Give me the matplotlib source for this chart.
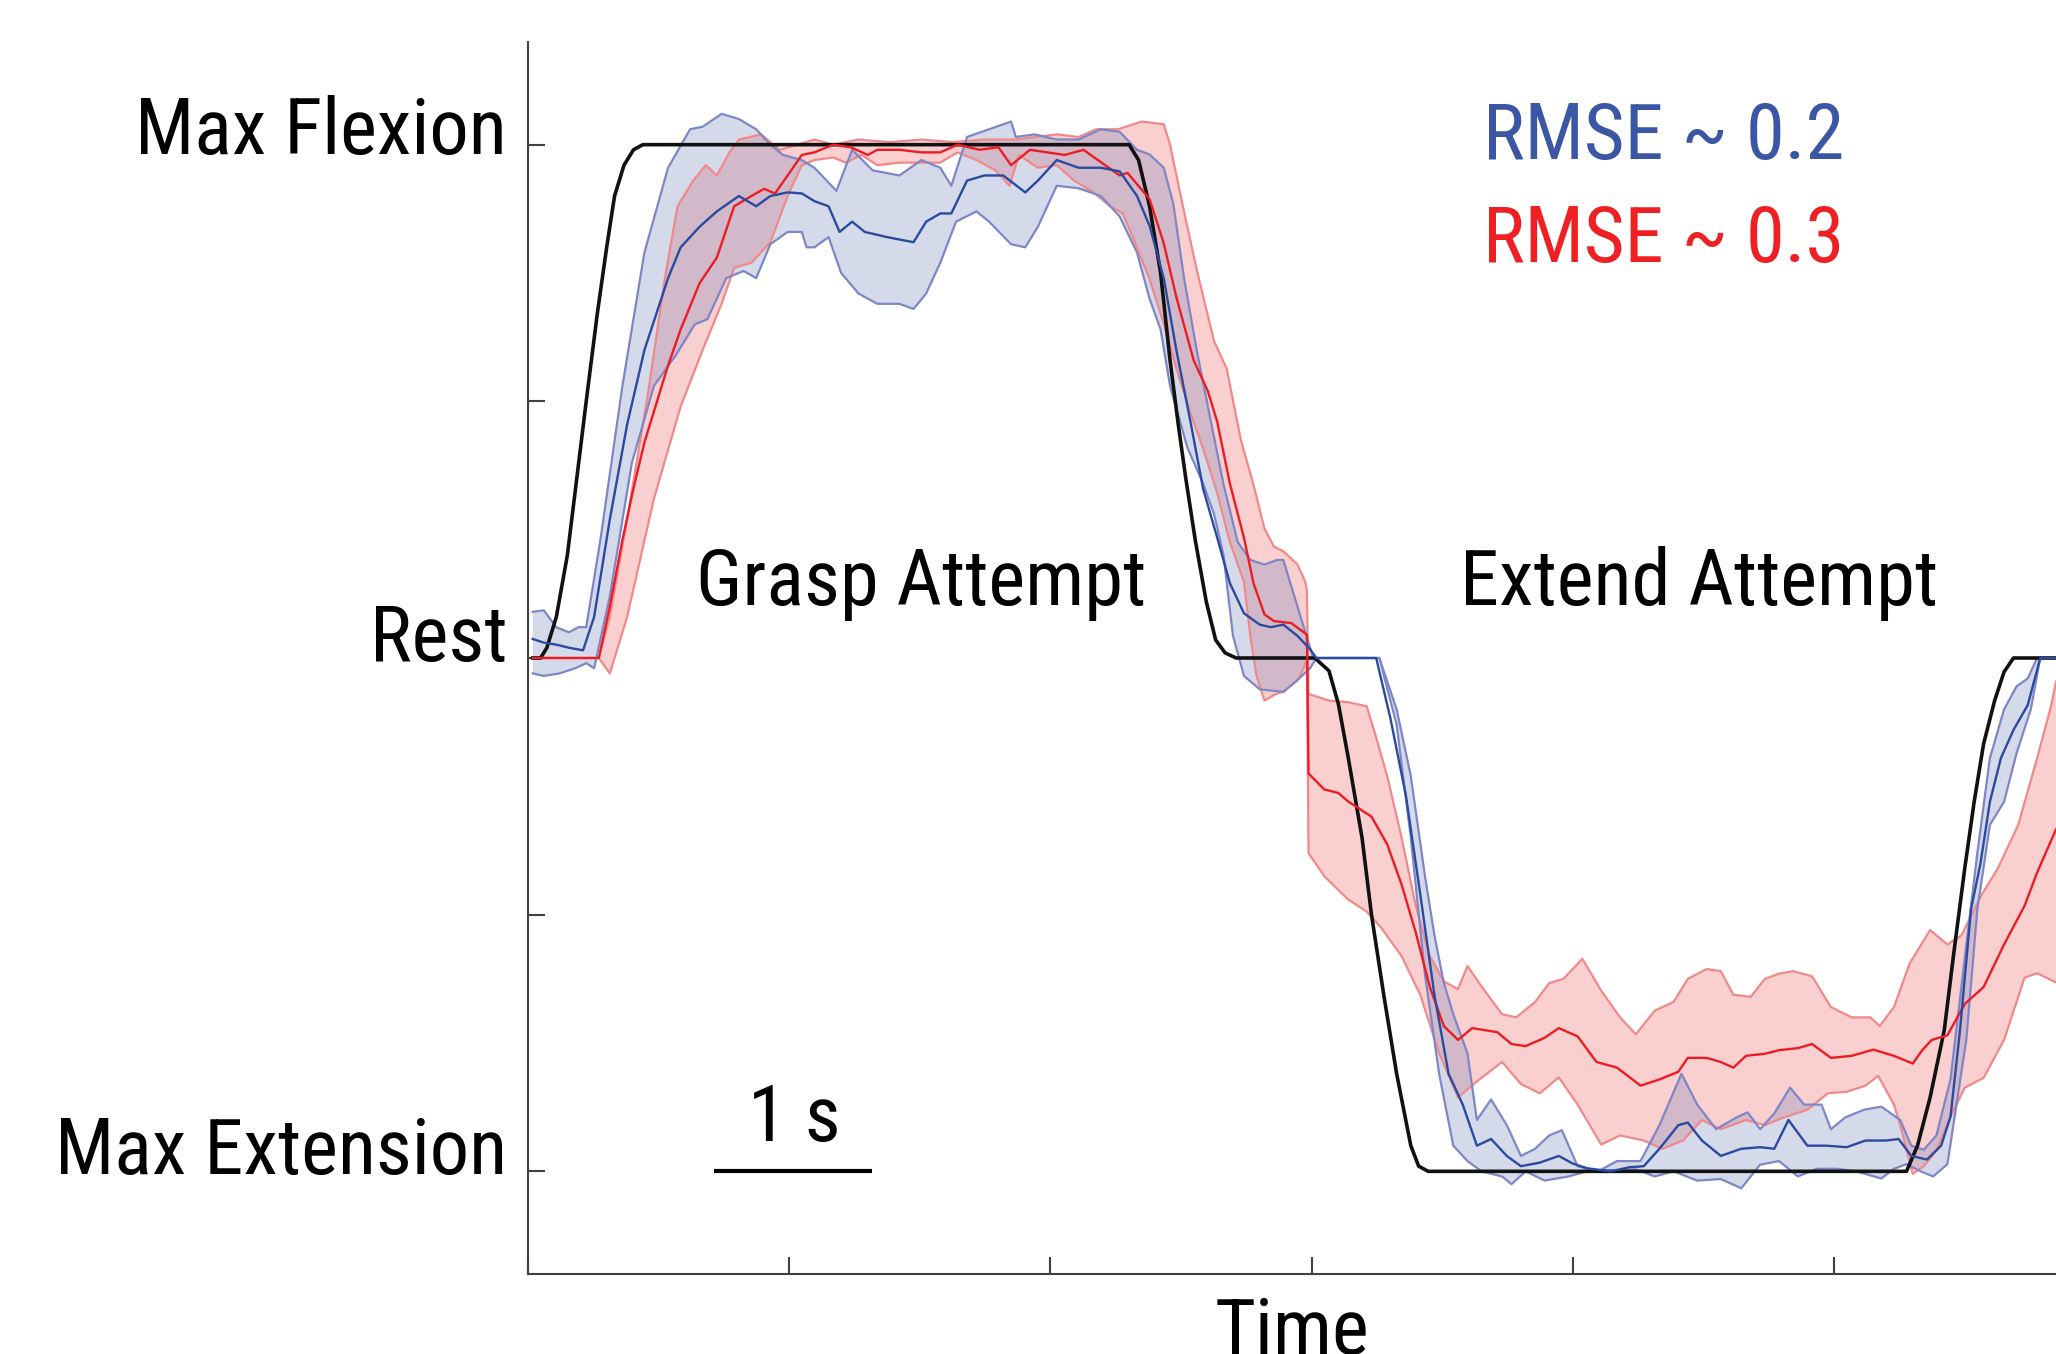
import numpy as np
import matplotlib
matplotlib.use("Agg")
import matplotlib.pyplot as plt
from matplotlib import font_manager
from matplotlib.font_manager import FontProperties
from matplotlib.transforms import blended_transform_factory

# (time [s], position) pairs
target = [(0.03, 0), (0.08, 0.0), (0.12, 0.02), (0.18, 0.08), (0.25, 0.2), (0.31, 0.35), (0.37, 0.5),
          (0.44, 0.67), (0.5, 0.8), (0.55, 0.9), (0.61, 0.96), (0.67, 0.99), (0.73, 1.0), (3.82, 1.0),
          (3.88, 0.97), (3.95, 0.88), (4.02, 0.75), (4.08, 0.58), (4.13, 0.46), (4.18, 0.35), (4.24, 0.23),
          (4.31, 0.11), (4.37, 0.035), (4.43, 0.01), (4.5, 0), (5.0, 0), (5.09, -0.025), (5.15, -0.09),
          (5.21, -0.19), (5.3, -0.35), (5.36, -0.5), (5.44, -0.66), (5.52, -0.81), (5.61, -0.95),
          (5.66, -0.99), (5.72, -1.0), (8.76, -1.0), (8.83, -0.95), (8.91, -0.856), (9.0, -0.725),
          (9.06, -0.576), (9.13, -0.41), (9.19, -0.28), (9.25, -0.167), (9.32, -0.083), (9.38, -0.027),
          (9.44, 0), (9.71, 0)]

red_mean = [(0.03, 0), (0.45, 0), (0.52, 0.1), (0.6, 0.23), (0.67, 0.33), (0.74, 0.42), (0.82, 0.5),
            (0.89, 0.57), (0.97, 0.64), (1.09, 0.73), (1.2, 0.78), (1.31, 0.88), (1.42, 0.9), (1.5, 0.914),
            (1.57, 0.905), (1.65, 0.94), (1.74, 0.98), (1.82, 0.985), (1.94, 1.0), (2.05, 0.995), (2.16, 0.98),
            (2.22, 0.99), (2.36, 0.99), (2.5, 0.985), (2.62, 0.985), (2.73, 1.0), (2.87, 0.99), (2.99, 0.995),
            (3.07, 0.96), (3.19, 0.99), (3.3, 0.985), (3.41, 0.98), (3.53, 0.99), (3.64, 0.966), (3.76, 0.94),
            (3.81, 0.945), (3.95, 0.894), (4.04, 0.808), (4.12, 0.703), (4.23, 0.58), (4.32, 0.52),
            (4.38, 0.46), (4.46, 0.34), (4.55, 0.234), (4.61, 0.146), (4.68, 0.085), (4.74, 0.072),
            (4.85, 0.068), (4.93, 0.05), (4.95, 0.045), (4.96, -0.225), (5.06, -0.256), (5.15, -0.263),
            (5.21, -0.279), (5.36, -0.309), (5.46, -0.363), (5.55, -0.44), (5.64, -0.533), (5.73, -0.64),
            (5.82, -0.717), (5.91, -0.744), (6.0, -0.721), (6.16, -0.729), (6.25, -0.752), (6.34, -0.756),
            (6.46, -0.74), (6.55, -0.721), (6.67, -0.737), (6.79, -0.787), (6.92, -0.798), (7.07, -0.833),
            (7.19, -0.821), (7.31, -0.806), (7.37, -0.779), (7.49, -0.779), (7.58, -0.787), (7.66, -0.798),
            (7.74, -0.775), (7.86, -0.771), (7.95, -0.764), (8.07, -0.76), (8.16, -0.752), (8.28, -0.779),
            (8.41, -0.775), (8.55, -0.763), (8.68, -0.775), (8.8, -0.79), (8.86, -0.764), (8.92, -0.744),
            (9.02, -0.735), (9.13, -0.674), (9.25, -0.641), (9.38, -0.558), (9.51, -0.483), (9.59, -0.418),
            (9.71, -0.334)]

red_upper = [(0.03, 0), (0.45, 0), (0.52, 0.08), (0.63, 0.27), (0.77, 0.53), (0.87, 0.74), (0.95, 0.88),
             (1.05, 0.93), (1.13, 0.96), (1.2, 0.94), (1.28, 0.985), (1.34, 1.01), (1.48, 1.02), (1.6, 0.99),
             (1.71, 1.0), (1.82, 1.01), (1.94, 1.0), (2.1, 1.01), (2.3, 1.005), (2.5, 1.01), (2.7, 1.005),
             (2.9, 1.01), (3.1, 1.01), (3.22, 1.015), (3.36, 1.02), (3.5, 1.015), (3.61, 1.03), (3.75, 1.03),
             (3.9, 1.045), (4.04, 1.04), (4.08, 1.0), (4.17, 0.868), (4.25, 0.756), (4.36, 0.617),
             (4.44, 0.564), (4.53, 0.425), (4.61, 0.338), (4.68, 0.252), (4.74, 0.217), (4.8, 0.208),
             (4.89, 0.182), (4.94, 0.148), (4.95, 0.13), (4.96, -0.07), (5.09, -0.083), (5.21, -0.086),
             (5.33, -0.094), (5.39, -0.155), (5.46, -0.23), (5.55, -0.348), (5.64, -0.48), (5.73, -0.58),
             (5.82, -0.63), (5.91, -0.645), (5.97, -0.6), (6.06, -0.64), (6.19, -0.694), (6.28, -0.7),
             (6.4, -0.67), (6.49, -0.633), (6.58, -0.625), (6.7, -0.586), (6.82, -0.648), (6.94, -0.7),
             (7.04, -0.733), (7.16, -0.687), (7.28, -0.67), (7.37, -0.625), (7.49, -0.606), (7.58, -0.61),
             (7.66, -0.656), (7.77, -0.66), (7.86, -0.625), (7.95, -0.615), (8.04, -0.61), (8.16, -0.62),
             (8.28, -0.68), (8.41, -0.7), (8.53, -0.7), (8.59, -0.717), (8.68, -0.68), (8.78, -0.595),
             (8.91, -0.53), (9.02, -0.558), (9.11, -0.54), (9.23, -0.465), (9.34, -0.41), (9.47, -0.325),
             (9.59, -0.195), (9.68, -0.092), (9.71, -0.046)]

red_lower = [(0.03, 0), (0.45, 0), (0.52, -0.03), (0.63, 0.08), (0.8, 0.31), (0.97, 0.49), (1.11, 0.6),
             (1.23, 0.69), (1.31, 0.76), (1.42, 0.77), (1.54, 0.81), (1.65, 0.9), (1.74, 0.96), (1.82, 0.97),
             (1.94, 0.975), (2.02, 0.965), (2.12, 0.98), (2.22, 0.96), (2.36, 0.965), (2.5, 0.965),
             (2.62, 0.965), (2.73, 0.985), (2.85, 0.97), (2.97, 0.95), (3.06, 0.92), (3.12, 0.98),
             (3.24, 0.955), (3.36, 0.96), (3.47, 0.93), (3.58, 0.91), (3.7, 0.88), (3.78, 0.866), (3.87, 0.8),
             (3.95, 0.738), (4.04, 0.651), (4.12, 0.564), (4.21, 0.477), (4.29, 0.408), (4.38, 0.321),
             (4.46, 0.226), (4.55, 0.148), (4.59, 0.043), (4.63, -0.035), (4.68, -0.083), (4.76, -0.069),
             (4.8, -0.066), (4.89, -0.043), (4.93, -0.02), (4.95, 0.0), (4.96, -0.38), (5.06, -0.425),
             (5.21, -0.47), (5.33, -0.494), (5.42, -0.525), (5.55, -0.58), (5.67, -0.656), (5.79, -0.77),
             (5.91, -0.856), (6.03, -0.825), (6.19, -0.787), (6.31, -0.83), (6.43, -0.848), (6.55, -0.817),
             (6.67, -0.87), (6.82, -0.948), (6.94, -0.93), (7.09, -0.94), (7.21, -0.956), (7.34, -0.94),
             (7.46, -0.9), (7.58, -0.918), (7.74, -0.9), (7.86, -0.91), (7.98, -0.895), (8.13, -0.88),
             (8.26, -0.848), (8.38, -0.845), (8.5, -0.833), (8.58, -0.814), (8.68, -0.87), (8.72, -0.91),
             (8.8, -1.005), (8.87, -0.99), (8.95, -0.96), (9.04, -0.893), (9.13, -0.837), (9.25, -0.818),
             (9.38, -0.744), (9.51, -0.623), (9.59, -0.614), (9.71, -0.632)]

blue_mean = [(0.03, 0.037), (0.1, 0.03), (0.18, 0.026), (0.26, 0.02), (0.35, 0.015), (0.42, 0.08),
             (0.52, 0.27), (0.63, 0.455), (0.74, 0.6), (0.89, 0.74), (0.97, 0.8), (1.09, 0.84), (1.2, 0.87),
             (1.34, 0.9), (1.45, 0.88), (1.54, 0.9), (1.65, 0.907), (1.74, 0.905), (1.82, 0.89), (1.91, 0.88),
             (1.98, 0.83), (2.06, 0.85), (2.14, 0.83), (2.28, 0.82), (2.45, 0.81), (2.53, 0.85), (2.62, 0.866),
             (2.69, 0.866), (2.79, 0.93), (2.9, 0.94), (3.02, 0.94), (3.16, 0.907), (3.24, 0.93), (3.36, 0.97),
             (3.5, 0.955), (3.64, 0.955), (3.76, 0.948), (3.87, 0.9), (3.95, 0.842), (4.04, 0.74),
             (4.12, 0.6), (4.21, 0.46), (4.29, 0.33), (4.38, 0.234), (4.46, 0.146), (4.55, 0.087),
             (4.65, 0.065), (4.72, 0.06), (4.8, 0.065), (4.89, 0.043), (4.97, 0.017), (5.01, 0), (5.39, 0),
             (5.48, -0.117), (5.58, -0.27), (5.67, -0.46), (5.76, -0.656), (5.85, -0.81), (5.94, -0.87),
             (6.03, -0.95), (6.12, -0.937), (6.22, -0.97), (6.31, -0.99), (6.43, -0.983), (6.55, -0.97),
             (6.64, -0.985), (6.73, -0.994), (6.88, -1.0), (7.0, -0.992), (7.09, -0.99), (7.19, -0.956),
             (7.31, -0.91), (7.37, -0.905), (7.46, -0.94), (7.58, -0.97), (7.71, -0.956), (7.83, -0.953),
             (7.92, -0.956), (8.01, -0.9), (8.13, -0.95), (8.25, -0.95), (8.38, -0.953), (8.5, -0.94),
             (8.63, -0.94), (8.71, -0.937), (8.79, -0.97), (8.89, -0.977), (8.98, -0.95), (9.04, -0.893),
             (9.1, -0.725), (9.17, -0.49), (9.23, -0.4), (9.29, -0.28), (9.36, -0.195), (9.44, -0.14),
             (9.53, -0.092), (9.61, 0), (9.71, 0)]

blue_upper = [(0.03, 0.09), (0.1, 0.093), (0.18, 0.06), (0.26, 0.05), (0.32, 0.06), (0.37, 0.06),
              (0.46, 0.23), (0.6, 0.53), (0.74, 0.79), (0.89, 0.955), (1.03, 1.03), (1.11, 1.035),
              (1.23, 1.06), (1.34, 1.05), (1.45, 1.03), (1.54, 1.0), (1.62, 0.98), (1.74, 0.97), (1.82, 0.955),
              (1.96, 0.91), (2.06, 0.99), (2.19, 0.95), (2.36, 0.94), (2.5, 0.97), (2.62, 0.955), (2.69, 0.92),
              (2.79, 1.015), (2.93, 1.03), (3.07, 1.045), (3.1, 1.015), (3.22, 1.02), (3.36, 1.01),
              (3.5, 1.01), (3.64, 1.03), (3.76, 1.025), (3.87, 0.99), (3.95, 0.981), (4.04, 0.955),
              (4.1, 0.886), (4.17, 0.738), (4.25, 0.599), (4.34, 0.46), (4.42, 0.338), (4.51, 0.226),
              (4.59, 0.191), (4.68, 0.182), (4.76, 0.191), (4.8, 0.191), (4.86, 0.13), (4.93, 0.06),
              (4.99, 0), (5.41, 0), (5.52, -0.1), (5.61, -0.23), (5.7, -0.425), (5.76, -0.54), (5.82, -0.633),
              (5.88, -0.694), (5.97, -0.77), (6.03, -0.9), (6.12, -0.86), (6.22, -0.91), (6.31, -0.97),
              (6.4, -0.956), (6.49, -0.93), (6.57, -0.92), (6.67, -0.99), (6.8, -1.0), (6.92, -0.98),
              (7.07, -0.98), (7.19, -0.91), (7.33, -0.81), (7.43, -0.87), (7.55, -0.918), (7.68, -0.895),
              (7.75, -0.885), (7.83, -0.918), (7.92, -0.887), (8.02, -0.837), (8.11, -0.87), (8.22, -0.87),
              (8.28, -0.918), (8.37, -0.895), (8.49, -0.88), (8.6, -0.874), (8.72, -0.9), (8.79, -0.95),
              (8.87, -0.958), (8.95, -0.93), (9.04, -0.82), (9.13, -0.585), (9.21, -0.38), (9.29, -0.195),
              (9.38, -0.1), (9.46, -0.055), (9.53, -0.04), (9.59, 0), (9.71, 0)]

blue_lower = [(0.03, -0.03), (0.1, -0.035), (0.2, -0.03), (0.3, -0.02), (0.37, -0.01), (0.42, -0.02),
              (0.52, 0.12), (0.66, 0.38), (0.8, 0.53), (0.94, 0.59), (1.06, 0.65), (1.14, 0.66), (1.26, 0.74),
              (1.37, 0.754), (1.45, 0.74), (1.54, 0.806), (1.65, 0.83), (1.74, 0.83), (1.77, 0.8), (1.82, 0.8),
              (1.91, 0.82), (1.99, 0.75), (2.1, 0.71), (2.22, 0.69), (2.36, 0.69), (2.45, 0.68), (2.53, 0.71),
              (2.62, 0.77), (2.72, 0.85), (2.85, 0.87), (2.93, 0.85), (3.07, 0.806), (3.16, 0.8), (3.24, 0.84),
              (3.36, 0.92), (3.5, 0.915), (3.64, 0.9), (3.76, 0.86), (3.87, 0.79), (3.95, 0.7), (4.02, 0.64),
              (4.08, 0.53), (4.19, 0.41), (4.29, 0.34), (4.36, 0.28), (4.42, 0.2), (4.48, 0.043),
              (4.55, -0.035), (4.65, -0.061), (4.8, -0.066), (4.89, -0.043), (4.97, -0.02), (5.01, 0),
              (5.41, 0), (5.52, -0.13), (5.61, -0.35), (5.7, -0.617), (5.79, -0.81), (5.88, -0.95),
              (5.97, -0.98), (6.06, -1.0), (6.19, -1.01), (6.25, -1.025), (6.34, -1.0), (6.46, -1.018),
              (6.61, -1.01), (6.73, -1.0), (6.88, -1.0), (7.04, -0.996), (7.16, -1.01), (7.28, -1.0),
              (7.43, -1.018), (7.58, -1.015), (7.71, -1.033), (7.83, -0.987), (7.95, -0.98), (8.07, -1.01),
              (8.19, -0.995), (8.32, -0.995), (8.44, -1.0), (8.6, -1.014), (8.68, -0.995), (8.76, -0.986),
              (8.85, -1.0), (8.93, -1.01), (9.02, -0.986), (9.08, -0.865), (9.14, -0.744), (9.21, -0.49),
              (9.29, -0.325), (9.38, -0.28), (9.46, -0.185), (9.55, -0.1), (9.61, 0), (9.71, 0)]

ytick_vals = [-1, -0.5, 0, 0.5, 1]
ylabels = {1: 'Max Flexion', 0: 'Rest', -1: 'Max Extension'}
xtick_step = 1.66
rmse_texts = ['RMSE ~ 0.2', 'RMSE ~ 0.3']

BLUE = '#2A4A9F'
RED = '#EC1C24'


# the original uses a narrow Arial-like face; take a narrow one if installed
def pick_font():
    want = ['Liberation Sans Narrow', 'Arial Narrow', 'Roboto Condensed', 'Noto Sans',
            'Open Sans', 'DejaVu Sans']
    best = None
    for f in font_manager.fontManager.ttflist:
        if f.style != 'normal' or f.weight not in (400, 'normal', 'regular'):
            continue
        fn = f.fname.lower()
        narrow = ('narrow' in f.name.lower() or 'condensed' in f.name.lower()
                  or 'narrow' in fn or 'condensed' in fn
                  or str(f.stretch) in ('condensed', 'semi-condensed'))
        if not narrow or 'extra' in fn or 'ultra' in fn:
            continue
        rank = want.index(f.name) if f.name in want else len(want)
        if best is None or rank < best[0]:
            best = (rank, f.fname)
    if best:
        return FontProperties(fname=best[1])
    return FontProperties(family=['Liberation Sans', 'DejaVu Sans'])


FP = pick_font()


def xy(pairs):
    a = np.array(pairs, dtype=float)
    return a[:, 0], a[:, 1]


def band(ax, upper, lower, face):
    tu, yu = xy(upper)
    tl, yl = xy(lower)
    ax.fill(np.r_[tu, tl[::-1]], np.r_[yu, yl[::-1]], color=face, alpha=0.3, lw=0)
    return (tu, yu), (tl, yl)


fig = plt.figure(figsize=(20.56, 13.54), dpi=100)
ax = fig.add_axes([528 / 2056, 80 / 1354, 1528 / 2056, 1232 / 1354])

# size the text so "Max Extension" is as wide as in the original (~452 px)
probe = fig.text(0, 0, 'Max Extension', fontproperties=FP, fontsize=62)
w = probe.get_window_extent(renderer=fig.canvas.get_renderer()).width
probe.remove()
FS = min(62, 62 * 452 / w)

red_edges = band(ax, red_upper, red_lower, '#EE6262')
blue_edges = band(ax, blue_upper, blue_lower, '#7687C0')
for t, y in red_edges:
    ax.plot(t, y, color='#F08A8A', lw=1.6)
for t, y in blue_edges:
    ax.plot(t, y, color='#7F86C6', lw=1.6)

ax.plot(*xy(target), color='#111111', lw=2.6)
ax.plot(*xy(red_mean), color=RED, lw=1.7)
ax.plot(*xy(blue_mean), color=BLUE, lw=1.7)

ax.set_xlim(0, 9.71)
ax.set_ylim(-1.2, 1.2)
ax.set_xticks(np.arange(0, 9.71, xtick_step))
ax.set_yticks(ytick_vals)
ax.set_xticklabels([])
ax.set_yticklabels([])
ax.tick_params(direction='in', length=12, width=1.5, color='#404040')
for s in ['top', 'right']:
    ax.spines[s].set_visible(False)
for s in ['left', 'bottom']:
    ax.spines[s].set_color('#404040')
    ax.spines[s].set_linewidth(1.5)

txt = dict(fontproperties=FP, fontsize=FS)

# y labels sit with their baseline on the tick
ytr = blended_transform_factory(ax.transAxes, ax.transData)
for v, lab in ylabels.items():
    off = -0.018 if v == 1 else -0.005
    ax.text(-0.0137, v + off, lab, transform=ytr, ha='right', va='baseline', clip_on=False, **txt)

ax.text(0.5, -1.356, 'Time', transform=ytr, ha='center', va='baseline', clip_on=False, **txt)

ax.text(2.50, 0.103, 'Grasp Attempt', ha='center', va='baseline', **txt)
ax.text(7.44, 0.103, 'Extend Attempt', ha='center', va='baseline', **txt)

ax.text(6.07, 0.973, rmse_texts[0], ha='left', va='baseline', color='#3A56A5', **txt)
ax.text(6.07, 0.772, rmse_texts[1], ha='left', va='baseline', color='#EE2024', **txt)

# 1 s scale bar
ax.plot([1.185, 2.185], [-1.0, -1.0], color='black', lw=3, solid_capstyle='butt')
ax.text(1.69, -0.94, '1 s', ha='center', va='baseline', **txt)

fig.savefig('out.png', dpi=100)
